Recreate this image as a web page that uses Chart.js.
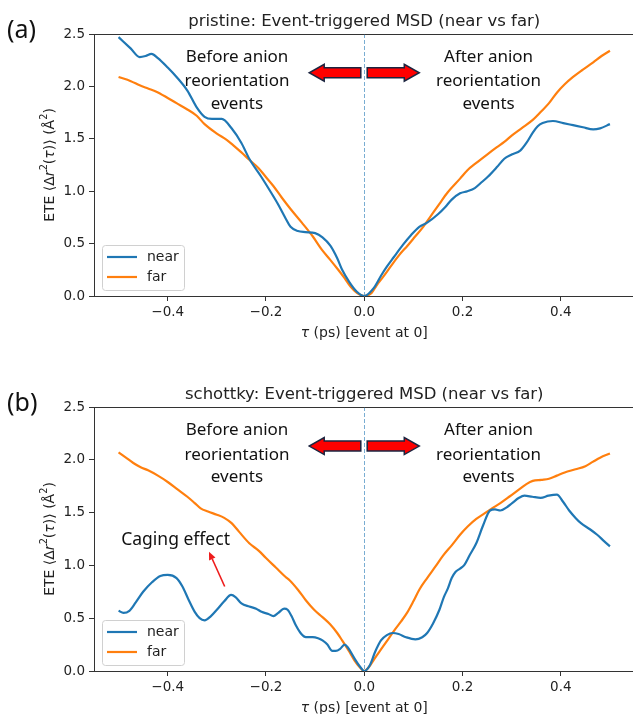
<!DOCTYPE html>
<html>
<head>
<meta charset="utf-8">
<script src="https://cdn.jsdelivr.net/npm/chart.js@4"></script>
<style>
  html, body { margin: 0; padding: 0; background: #fff; overflow: hidden; width: 633px; height: 714px; }
  canvas { position: absolute; left: 0; }
</style>
</head>
<body>
<canvas id="chartA" width="640" height="357" style="top:0px"></canvas>
<canvas id="chartB" width="640" height="357" style="top:357px"></canvas>
<script>
// axis ticks
const xTicks = [-0.4, -0.2, 0.0, 0.2, 0.4];
const yTicks = [0.0, 0.5, 1.0, 1.5, 2.0, 2.5];

// pristine: near
const tauNearA = [-0.50, -0.475, -0.457, -0.445, -0.433, -0.42, -0.40, -0.382, -0.36, -0.341, -0.325, -0.31, -0.29, -0.27, -0.25, -0.234, -0.21, -0.19, -0.176, -0.16, -0.15, -0.135, -0.12, -0.10, -0.085, -0.069, -0.055, -0.045, -0.03, -0.015, 0.0,
  0.02, 0.035, 0.046, 0.06, 0.079, 0.095, 0.112, 0.128, 0.15, 0.165, 0.178, 0.195, 0.21, 0.225, 0.24, 0.252, 0.27, 0.285, 0.30, 0.318, 0.33, 0.343, 0.353, 0.363, 0.384, 0.405, 0.425, 0.445, 0.466, 0.48, 0.50];
const nearA = [2.47, 2.36, 2.28, 2.29, 2.31, 2.27, 2.18, 2.09, 1.96, 1.80, 1.71, 1.69, 1.69, 1.60, 1.46, 1.31, 1.14, 0.99, 0.88, 0.74, 0.66, 0.62, 0.61, 0.60, 0.56, 0.48, 0.36, 0.25, 0.13, 0.04, 0.0,
  0.08, 0.20, 0.28, 0.37, 0.49, 0.58, 0.66, 0.70, 0.78, 0.85, 0.92, 0.98, 1.00, 1.03, 1.09, 1.14, 1.23, 1.31, 1.35, 1.39, 1.46, 1.56, 1.62, 1.65, 1.67, 1.65, 1.63, 1.61, 1.59, 1.60, 1.64];

// pristine: far
const tauFarA = [-0.50, -0.475, -0.457, -0.44, -0.423, -0.40, -0.382, -0.36, -0.341, -0.325, -0.30, -0.28, -0.267, -0.25, -0.234, -0.215, -0.201, -0.185, -0.168, -0.15, -0.127, -0.105, -0.086, -0.07, -0.053, -0.04, -0.028, -0.015, 0.0,
  0.015, 0.025, 0.038, 0.055, 0.071, 0.088, 0.104, 0.12, 0.135, 0.153, 0.17, 0.195, 0.21, 0.228, 0.25, 0.27, 0.285, 0.30, 0.32, 0.343, 0.36, 0.376, 0.392, 0.408, 0.425, 0.445, 0.466, 0.483, 0.50];
const farA = [2.09, 2.05, 2.01, 1.98, 1.95, 1.89, 1.84, 1.78, 1.72, 1.64, 1.55, 1.49, 1.44, 1.37, 1.30, 1.22, 1.14, 1.05, 0.94, 0.83, 0.70, 0.57, 0.44, 0.35, 0.25, 0.17, 0.09, 0.03, 0.0,
  0.03, 0.10, 0.18, 0.29, 0.39, 0.48, 0.57, 0.66, 0.76, 0.88, 0.99, 1.12, 1.20, 1.27, 1.35, 1.42, 1.47, 1.53, 1.60, 1.68, 1.76, 1.84, 1.94, 2.02, 2.09, 2.16, 2.23, 2.29, 2.34];

// schottky: near
const tauNearB = [-0.50, -0.49, -0.478, -0.465, -0.45, -0.432, -0.415, -0.40, -0.382, -0.37, -0.358, -0.345, -0.335, -0.325, -0.312, -0.30, -0.285, -0.271, -0.262, -0.25, -0.234, -0.22, -0.209, -0.195, -0.185, -0.175, -0.163, -0.156, -0.148, -0.139, -0.128, -0.119, -0.105, -0.094, -0.085, -0.075, -0.065, -0.058, -0.049, -0.04, -0.033, -0.02, -0.01, 0.0,
  0.012, 0.022, 0.034, 0.046, 0.058, 0.07, 0.085, 0.104, 0.118, 0.128, 0.14, 0.153, 0.162, 0.17, 0.178, 0.186, 0.195, 0.203, 0.215, 0.228, 0.242, 0.256, 0.266, 0.277, 0.29, 0.301, 0.315, 0.326, 0.342, 0.359, 0.375, 0.392, 0.405, 0.417, 0.43, 0.441, 0.46, 0.474, 0.488, 0.50];
const nearB = [0.57, 0.55, 0.57, 0.65, 0.75, 0.84, 0.90, 0.91, 0.88, 0.80, 0.68, 0.56, 0.50, 0.48, 0.52, 0.58, 0.66, 0.72, 0.70, 0.64, 0.61, 0.59, 0.56, 0.54, 0.52, 0.55, 0.59, 0.58, 0.52, 0.43, 0.35, 0.32, 0.32, 0.31, 0.29, 0.25, 0.19, 0.19, 0.21, 0.25, 0.22, 0.12, 0.05, 0.0,
  0.06, 0.18, 0.29, 0.34, 0.36, 0.35, 0.32, 0.30, 0.32, 0.36, 0.45, 0.58, 0.70, 0.78, 0.88, 0.94, 0.97, 1.00, 1.10, 1.21, 1.38, 1.52, 1.53, 1.52, 1.55, 1.59, 1.64, 1.66, 1.65, 1.64, 1.66, 1.67, 1.60, 1.52, 1.45, 1.40, 1.34, 1.29, 1.23, 1.18];

// schottky: far
const tauFarB = [-0.50, -0.485, -0.47, -0.455, -0.44, -0.42, -0.40, -0.38, -0.36, -0.345, -0.333, -0.318, -0.30, -0.285, -0.27, -0.255, -0.234, -0.215, -0.20, -0.18, -0.16, -0.152, -0.135, -0.119, -0.102, -0.085, -0.069, -0.055, -0.045, -0.03, -0.02, -0.01, 0.0,
  0.01, 0.02, 0.038, 0.05, 0.062, 0.075, 0.087, 0.10, 0.112, 0.128, 0.145, 0.16, 0.178, 0.195, 0.211, 0.228, 0.244, 0.26, 0.277, 0.295, 0.318, 0.33, 0.343, 0.36, 0.376, 0.392, 0.408, 0.43, 0.45, 0.465, 0.48, 0.50];
const farB = [2.07, 2.02, 1.97, 1.93, 1.90, 1.85, 1.79, 1.72, 1.65, 1.59, 1.54, 1.51, 1.48, 1.45, 1.40, 1.32, 1.21, 1.14, 1.07, 0.98, 0.89, 0.86, 0.77, 0.67, 0.58, 0.51, 0.44, 0.36, 0.29, 0.18, 0.10, 0.04, 0.0,
  0.04, 0.11, 0.23, 0.31, 0.39, 0.47, 0.55, 0.66, 0.77, 0.88, 0.99, 1.09, 1.19, 1.29, 1.37, 1.44, 1.49, 1.54, 1.59, 1.65, 1.73, 1.77, 1.80, 1.81, 1.82, 1.85, 1.88, 1.91, 1.94, 1.98, 2.02, 2.06];

const beforeLines = ['Before anion', 'reorientation', 'events'];
const afterLines = ['After anion', 'reorientation', 'events'];

const BLUE = '#1f77b4', ORANGE = '#ff7f0e', INK = '#222';
const MPL = '"DejaVu Sans"';
const NOTE = '"Noto Sans"';

function pts(xs, ys) { return xs.map((x, i) => ({ x: x, y: ys[i] })); }
function fmt(v) { return (v < 0 ? '\u2212' : '') + Math.abs(v).toFixed(1); }

// draw a row of text pieces (mathtext-ish), centred on (cx, cy)
function drawRuns(ctx, runs, cx, cy, size, rotate) {
  ctx.save();
  ctx.translate(cx, cy);
  if (rotate) ctx.rotate(-Math.PI / 2);
  ctx.textBaseline = 'middle';
  ctx.textAlign = 'left';
  ctx.fillStyle = INK;
  const fontOf = r => {
    if (r[1] === 'i') return 'italic ' + size + 'px ' + MPL;
    if (r[1] === 's') return (size * 0.7) + 'px ' + MPL;
    return size + 'px ' + MPL;
  };
  let total = 0;
  runs.forEach(r => { ctx.font = fontOf(r); total += ctx.measureText(r[0]).width; });
  let x = -total / 2;
  runs.forEach(r => {
    ctx.font = fontOf(r);
    ctx.fillText(r[0], x, r[1] === 's' ? -size * 0.38 : 0);
    x += ctx.measureText(r[0]).width;
  });
  ctx.restore();
}

function blockArrow(ctx, xTail, xTip, yc) {
  const head = 15, hh = 8.5, sh = 5;
  const dir = Math.sign(xTip - xTail);
  const xb = xTip - dir * head;
  ctx.beginPath();
  ctx.moveTo(xTail, yc - sh);
  ctx.lineTo(xb, yc - sh);
  ctx.lineTo(xb, yc - hh);
  ctx.lineTo(xTip, yc);
  ctx.lineTo(xb, yc + hh);
  ctx.lineTo(xb, yc + sh);
  ctx.lineTo(xTail, yc + sh);
  ctx.closePath();
  ctx.fillStyle = '#ff0000';
  ctx.fill();
  ctx.strokeStyle = '#1c2540';
  ctx.lineWidth = 1.5;
  ctx.lineJoin = 'miter';
  ctx.stroke();
}

function thinArrow(ctx, x1, y1, x2, y2) {
  const ang = Math.atan2(y2 - y1, x2 - x1), len = 8, w = 3.5;
  const bx = x2 - len * Math.cos(ang), by = y2 - len * Math.sin(ang);
  ctx.strokeStyle = '#ee1c1c';
  ctx.fillStyle = '#ee1c1c';
  ctx.lineWidth = 1.6;
  ctx.beginPath();
  ctx.moveTo(x1, y1);
  ctx.lineTo(bx, by);
  ctx.stroke();
  ctx.beginPath();
  ctx.moveTo(x2, y2);
  ctx.lineTo(bx + w * Math.sin(ang), by - w * Math.cos(ang));
  ctx.lineTo(bx - w * Math.sin(ang), by + w * Math.cos(ang));
  ctx.closePath();
  ctx.fill();
}

const decor = {
  id: 'decor',
  beforeDatasetsDraw(chart) {
    const { ctx, chartArea: a, scales: { x } } = chart;
    const x0 = Math.round(x.getPixelForValue(0)) + 0.5;
    ctx.save();
    ctx.strokeStyle = 'rgba(31,119,180,0.6)';
    ctx.lineWidth = 1;
    ctx.setLineDash([4, 2]);
    ctx.beginPath();
    ctx.moveTo(x0, a.top);
    ctx.lineTo(x0, a.bottom);
    ctx.stroke();
    ctx.restore();
  },
  afterDraw(chart, args, o) {
    const { ctx, chartArea: a, scales: { x, y } } = chart;
    ctx.save();

    // top and right spines
    ctx.strokeStyle = '#333';
    ctx.lineWidth = 1;
    ctx.beginPath();
    ctx.moveTo(a.left, Math.floor(a.top) + 0.5);
    ctx.lineTo(a.right, Math.floor(a.top) + 0.5);
    ctx.lineTo(a.right, a.bottom);
    ctx.stroke();

    // title and panel letter
    ctx.fillStyle = INK;
    ctx.textAlign = 'center';
    ctx.textBaseline = 'middle';
    ctx.font = '16.5px ' + MPL;
    ctx.fillText(o.title, (a.left + a.right) / 2, a.top - 12);
    ctx.textAlign = 'left';
    ctx.font = '25px ' + NOTE;
    ctx.fillStyle = '#111';
    ctx.fillText(o.panel, 7, a.top - 3);

    // axis labels
    drawRuns(ctx, [['ETE \u27e8\u0394', 'n'], ['r', 'i'], ['2', 's'], ['(', 'n'], ['\u03c4', 'i'], [')\u27e9 (\u00c5', 'n'], ['2', 's'], [')', 'n']],
      50, (a.top + a.bottom) / 2, 14, true);
    drawRuns(ctx, [['\u03c4', 'i'], [' (ps) [event at 0]', 'n']], (a.left + a.right) / 2, a.bottom + 37, 14, false);

    // legend
    const lx = a.left + 8, ly = a.bottom - 51, lw = 82, lh = 45;
    ctx.beginPath();
    ctx.roundRect(lx + 0.5, ly + 0.5, lw, lh, 3);
    ctx.fillStyle = 'rgba(255,255,255,0.8)';
    ctx.fill();
    ctx.strokeStyle = '#d0d0d0';
    ctx.lineWidth = 1;
    ctx.stroke();
    [['near', BLUE], ['far', ORANGE]].forEach((e, i) => {
      const ry = ly + 12 + i * 20;
      ctx.strokeStyle = e[1];
      ctx.lineWidth = 2.2;
      ctx.beginPath();
      ctx.moveTo(lx + 5, ry);
      ctx.lineTo(lx + 35, ry);
      ctx.stroke();
      ctx.fillStyle = INK;
      ctx.font = '14px ' + MPL;
      ctx.textBaseline = 'middle';
      ctx.fillText(e[0], lx + 45, ry);
    });

    // event annotations
    ctx.fillStyle = '#111';
    ctx.textAlign = 'center';
    ctx.font = '17px ' + NOTE;
    const rows = [2.28, 2.047, 1.835];
    beforeLines.forEach((s, i) => ctx.fillText(s, x.getPixelForValue(-0.259), y.getPixelForValue(rows[i])));
    afterLines.forEach((s, i) => ctx.fillText(s, x.getPixelForValue(0.253), y.getPixelForValue(rows[i])));
    const ya = y.getPixelForValue(2.13);
    blockArrow(ctx, x.getPixelForValue(-0.007), x.getPixelForValue(-0.112), ya);
    blockArrow(ctx, x.getPixelForValue(0.006), x.getPixelForValue(0.112), ya);

    if (o.caging) {
      ctx.font = '17.5px ' + NOTE;
      ctx.fillStyle = '#111';
      ctx.fillText('Caging effect', x.getPixelForValue(-0.384), y.getPixelForValue(1.24));
      thinArrow(ctx, x.getPixelForValue(-0.284), y.getPixelForValue(0.80), x.getPixelForValue(-0.316), y.getPixelForValue(1.13));
    }
    ctx.restore();
  }
};

function makeChart(id, tauNear, near, tauFar, far, padTop, padBottom, title, panel, caging) {
  const tickFont = { family: 'DejaVu Sans', size: 13.5 };
  return new Chart(document.getElementById(id), {
    type: 'line',
    data: {
      datasets: [
        { label: 'near', data: pts(tauNear, near), borderColor: BLUE, borderWidth: 2.2, pointRadius: 0, cubicInterpolationMode: 'monotone', fill: false },
        { label: 'far', data: pts(tauFar, far), borderColor: ORANGE, borderWidth: 2.2, pointRadius: 0, cubicInterpolationMode: 'monotone', fill: false }
      ]
    },
    options: {
      responsive: false,
      animation: false,
      devicePixelRatio: 1,
      layout: { padding: { left: 0, right: 5.5, top: padTop, bottom: padBottom } },
      plugins: {
        legend: { display: false },
        tooltip: { enabled: false },
        decor: { title: title, panel: panel, caging: caging }
      },
      scales: {
        x: {
          type: 'linear', min: -0.55, max: 0.55,
          afterBuildTicks: s => { s.ticks = xTicks.map(v => ({ value: v })); },
          afterFit: s => { s.height = 22; },
          grid: { drawOnChartArea: false, tickLength: 5, color: '#333' },
          border: { color: '#333', width: 1 },
          ticks: { padding: 3, color: INK, font: tickFont, maxRotation: 0, autoSkip: false, callback: v => fmt(v) }
        },
        y: {
          type: 'linear', min: 0, max: 2.5,
          afterBuildTicks: s => { s.ticks = yTicks.map(v => ({ value: v })); },
          afterFit: s => { s.width = 94; },
          grid: { drawOnChartArea: false, tickLength: 5, color: '#333' },
          border: { color: '#333', width: 1 },
          ticks: { padding: 4, color: INK, font: tickFont, autoSkip: false, callback: v => fmt(v) }
        }
      }
    },
    plugins: [decor]
  });
}

makeChart('chartA', tauNearA, nearA, tauFarA, farA, 34, 39, 'pristine: Event-triggered MSD (near vs far)', '(a)', false);
makeChart('chartB', tauNearB, nearB, tauFarB, farB, 50, 21, 'schottky: Event-triggered MSD (near vs far)', '(b)', true);
</script>
</body>
</html>
